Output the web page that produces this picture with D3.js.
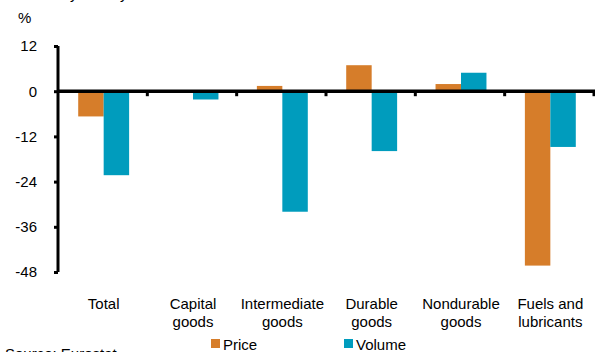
<!DOCTYPE html>
<html>
<head>
<meta charset="utf-8">
<script src="https://cdn.jsdelivr.net/npm/d3@7"></script>
<style>
  body { margin: 0; background: #fff; }
  text { font-family: "Liberation Sans", Arial, sans-serif; fill: #000; }
</style>
</head>
<body>
<script>
const categories = [["Total"], ["Capital", "goods"], ["Intermediate", "goods"], ["Durable", "goods"], ["Nondurable", "goods"], ["Fuels and", "lubricants"]];
const price = [-6.7, 0.3, 1.4, 6.9, 1.9, -46.3];
const volume = [-22.3, -2.2, -32.0, -15.9, 4.9, -14.8];
const yTicks = [12, 0, -12, -24, -36, -48];
const seriesNames = ["Price", "Volume"];
const colors = ["#D67D2A", "#009CBD"];

const width = 595, height = 352;
const svg = d3.create("svg")
  .attr("width", width)
  .attr("height", height)
  .attr("viewBox", [0, 0, width, height]);

const left = 58, right = 594;
const y = d3.scaleLinear().domain([-48, 12]).range([272, 46]);
const x = d3.scaleBand().domain(d3.range(categories.length)).range([left, right]);
const barW = x.bandwidth() * 0.285;

// title, mostly cut off at the top
svg.append("text").attr("x", 25).attr("y", -1).style("font-size", "15px").text("Monthly activity");

svg.append("text").attr("x", 18).attr("y", 23).style("font-size", "15px").text("%");

// bars
const series = [price, volume];
series.forEach((vals, s) => {
  svg.append("g").selectAll("rect")
    .data(vals)
    .join("rect")
    .attr("x", (d, i) => x(i) + x.bandwidth() / 2 + (s - 1) * barW + 1)
    .attr("width", barW)
    .attr("y", d => y(Math.max(0, d)))
    .attr("height", d => Math.abs(y(d) - y(0)))
    .attr("fill", colors[s]);
});

// y axis
const yAxis = svg.append("g")
  .attr("transform", `translate(${left},0)`)
  .call(d3.axisLeft(y).tickValues(yTicks).tickFormat(d => String(d)).tickSize(4).tickPadding(17));
yAxis.select(".domain").attr("stroke", "#000").attr("stroke-width", 3).attr("d", `M0,${y(12)}V${y(-48)}`);
yAxis.selectAll(".tick line").attr("stroke", "#000").attr("stroke-width", 3);
yAxis.selectAll(".tick text").style("font-size", "15px").style("font-family", "Liberation Sans, Arial, sans-serif").attr("fill", "#000");

// zero line with ticks between categories
svg.append("line").attr("x1", left).attr("x2", width).attr("y1", y(0)).attr("y2", y(0))
  .attr("stroke", "#000").attr("stroke-width", 3.5);
svg.append("g").selectAll("line")
  .data(d3.range(1, categories.length + 1))
  .join("line")
  .attr("x1", i => left + i * x.step())
  .attr("x2", i => left + i * x.step())
  .attr("y1", y(0))
  .attr("y2", y(0) + 5)
  .attr("stroke", "#000").attr("stroke-width", 3);

// category labels
const lab = svg.append("g").selectAll("text")
  .data(categories)
  .join("text")
  .attr("text-anchor", "middle")
  .attr("y", 309)
  .style("font-size", "15px");
lab.each(function(lines, i) {
  d3.select(this).selectAll("tspan").data(lines).join("tspan")
    .attr("x", x(i) + x.bandwidth() / 2 + 1)
    .attr("dy", (d, j) => j === 0 ? 0 : 17.5)
    .text(d => d);
});

// legend
const legX = [211, 344];
seriesNames.forEach((n, s) => {
  svg.append("rect").attr("x", legX[s]).attr("y", 339).attr("width", 9).attr("height", 9).attr("fill", colors[s]);
  svg.append("text").attr("x", legX[s] + 12).attr("y", 350).style("font-size", "15px").text(n);
});

svg.append("text").attr("x", 5).attr("y", 359).style("font-size", "15px").text("Source: Eurostat");

d3.select("body").append(() => svg.node());
</script>
</body>
</html>
